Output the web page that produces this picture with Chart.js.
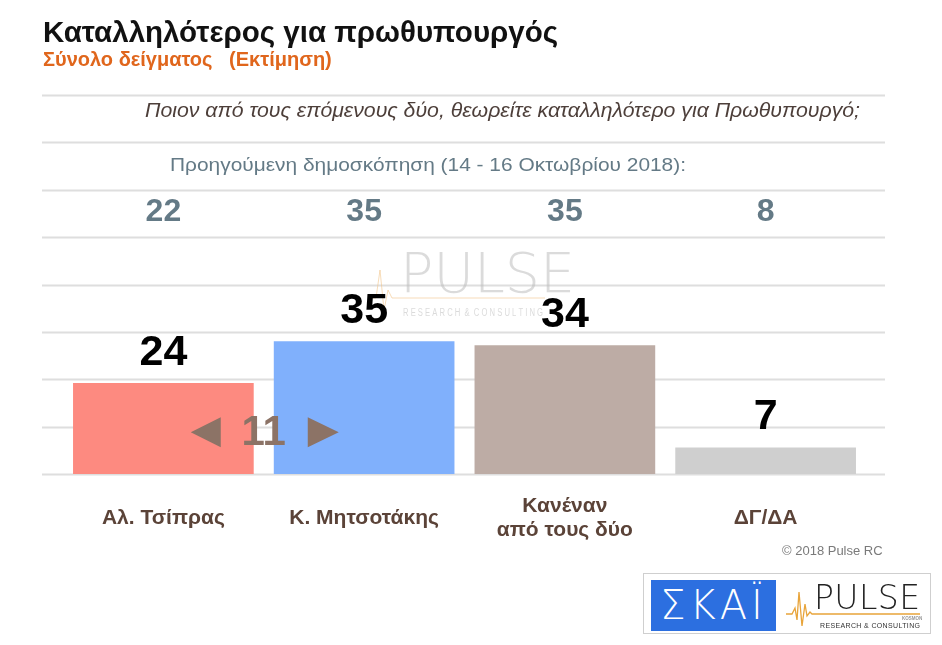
<!DOCTYPE html>
<html lang="el">
<head>
<meta charset="utf-8">
<title>Καταλληλότερος για πρωθυπουργός</title>
<script src="https://cdn.jsdelivr.net/npm/chart.js@4.4.1/dist/chart.umd.min.js"></script>
<style>
    html, body { margin: 0; padding: 0; background: #fff; }
    body {
        width: 942px; height: 645px; position: relative; overflow: hidden;
        font-family: "Liberation Sans", Arial, sans-serif;
    }
    #chart { position: absolute; left: 0; top: 0; }
    .title { position: absolute; left: 43px; top: 15px; font-size: 29.5px; font-weight: bold; color: #111; white-space: nowrap; }
    .subtitle { position: absolute; left: 43px; top: 48px; font-size: 20px; font-weight: bold; color: #e0661c; white-space: pre; }
    .copyright { position: absolute; left: 782px; top: 543px; font-size: 13px; color: #7a7a7a; }
    .logos {
        position: absolute; left: 643px; top: 573px; width: 288px; height: 61px;
        border: 1px solid #cfcfcf; box-sizing: border-box; background: #fff;
    }
    .skai {
        position: absolute; left: 7px; top: 6px; width: 125px; height: 51px; background: #2c6fe0;
        color: #fff; font-family: "DejaVu Sans", sans-serif; font-weight: 200; font-size: 40px; line-height: 51px;
        text-align: center; letter-spacing: 4px;
    }
    .pulse-logo { position: absolute; left: 140px; top: 4px; width: 146px; height: 54px; }
</style>
</head>
<body>
<canvas id="chart" width="942" height="645"></canvas>
<div class="title">Καταλληλότερος για πρωθυπουργός</div>
<div class="subtitle">Σύνολο δείγματος   (Εκτίμηση)</div>
<div class="copyright">© 2018 Pulse RC</div>
<div class="logos">
    <div class="skai">ΣΚΑΪ</div>
    <svg class="pulse-logo" viewBox="0 0 146 54">
        <polyline points="2,36 8,36 11,30 13,42 15,14 18,48 21,26 23,38 26,34 28,36 136,36"
                  fill="none" stroke="#e8a43a" stroke-width="1.3"/>
        <text x="30" y="31" font-family="DejaVu Sans" font-size="33" font-weight="200" fill="#222" letter-spacing="2" textLength="108">PULSE</text>
        <text x="118" y="42" font-family="Liberation Sans" font-size="4.5" font-weight="bold" fill="#999">KOSMON</text>
        <text x="36" y="50" font-family="Liberation Sans" font-size="7" fill="#333" textLength="100">RESEARCH &amp; CONSULTING</text>
    </svg>
</div>

<script>
// Chart data
const categories = [['Αλ. Τσίπρας'], ['Κ. Μητσοτάκης'], ['Κανέναν', 'από τους δύο'], ['ΔΓ/ΔΑ']];
const currentValues = [24, 35, 34, 7];
const previousValues = [22, 35, 35, 8];
const barColors = ['#fd8a80', '#80b0fc', '#bdaca5', '#cfcfcf'];
const yMax = 100;
const yStep = 12.5;

const questionText = 'Ποιον από τους επόμενους δύο, θεωρείτε καταλληλότερο για Πρωθυπουργό;';
const previousText = 'Προηγούμενη δημοσκόπηση (14 - 16 Οκτωβρίου 2018):';

const FONT = '"Liberation Sans", Arial, sans-serif';

// draws left-aligned text stretched to a given width
function fillStretched(ctx, text, x, y, width) {
    const natural = ctx.measureText(text).width;
    ctx.save();
    ctx.translate(x, y);
    ctx.scale(width / natural, 1);
    ctx.textAlign = 'left';
    ctx.fillText(text, 0, 0);
    ctx.restore();
}

// grid lines reach a bit past the plot area, like the original
const gridPlugin = {
    id: 'wideGrid',
    beforeDatasetsDraw(chart) {
        const ctx = chart.ctx;
        const y = chart.scales.y;
        ctx.save();
        ctx.strokeStyle = '#dedede';
        ctx.lineWidth = 2;
        y.ticks.forEach(t => {
            const py = Math.round(y.getPixelForValue(t.value)) + 0.5;
            ctx.beginPath();
            ctx.moveTo(42, py);
            ctx.lineTo(885, py);
            ctx.stroke();
        });

        // faint watermark
        ctx.globalAlpha = 0.55;
        ctx.fillStyle = '#bdbdbd';
        ctx.font = '200 56px "DejaVu Sans", sans-serif';
        ctx.textBaseline = 'alphabetic';
        ctx.textAlign = 'left';
        ctx.fillText('PULSE', 400, 292, 175);
        ctx.font = '10px ' + FONT;
        ctx.fillText('R E S E A R C H  &  C O N S U L T I N G', 403, 316, 140);
        ctx.strokeStyle = '#f0c080';
        ctx.lineWidth = 1;
        ctx.beginPath();
        ctx.moveTo(370, 298);
        ctx.lineTo(376, 298);
        ctx.lineTo(380, 270);
        ctx.lineTo(384, 310);
        ctx.lineTo(388, 290);
        ctx.lineTo(392, 298);
        ctx.lineTo(545, 298);
        ctx.stroke();
        ctx.restore();
    }
};

const labelPlugin = {
    id: 'labels',
    afterDatasetsDraw(chart) {
        const ctx = chart.ctx;
        const x = chart.scales.x;
        const y = chart.scales.y;
        ctx.save();
        ctx.textBaseline = 'middle';

        ctx.fillStyle = '#4d3f3a';
        ctx.font = 'italic 21px ' + FONT;
        fillStretched(ctx, questionText, 145, 111, 715);

        ctx.fillStyle = '#647a86';
        ctx.font = '19px ' + FONT;
        fillStretched(ctx, previousText, 170, 166, 516);

        ctx.textAlign = 'center';
        ctx.font = 'bold 32px ' + FONT;
        previousValues.forEach((v, i) => {
            ctx.fillText(String(v), x.getPixelForValue(i), 212);
        });

        // current values above bars
        ctx.fillStyle = '#000';
        ctx.font = 'bold 43px ' + FONT;
        const meta = chart.getDatasetMeta(0);
        meta.data.forEach((bar, i) => {
            ctx.fillText(String(currentValues[i]), bar.x, bar.y - 30);
        });

        // lead between the two leaders
        const lead = currentValues[1] - currentValues[0];
        const cx = (x.getPixelForValue(0) + x.getPixelForValue(1)) / 2;
        const cy = y.getPixelForValue(11);
        ctx.fillStyle = '#8c7366';
        ctx.font = 'bold 42px ' + FONT;
        ctx.fillText(String(lead), cx, cy + 1);
        ctx.beginPath();
        ctx.moveTo(cx - 73, cy);
        ctx.lineTo(cx - 43, cy - 15);
        ctx.lineTo(cx - 43, cy + 15);
        ctx.closePath();
        ctx.moveTo(cx + 75, cy);
        ctx.lineTo(cx + 44, cy - 15);
        ctx.lineTo(cx + 44, cy + 15);
        ctx.closePath();
        ctx.fill();

        // category labels
        ctx.fillStyle = '#5b4338';
        ctx.font = 'bold 21px ' + FONT;
        categories.forEach((lines, i) => {
            const px = x.getPixelForValue(i);
            const top = 518 - (lines.length - 1) * 12;
            lines.forEach((line, j) => ctx.fillText(line, px, top + j * 24));
        });
        ctx.restore();
    }
};

new Chart(document.getElementById('chart'), {
    type: 'bar',
    data: {
        labels: categories,
        datasets: [{
            data: currentValues,
            backgroundColor: barColors,
            borderWidth: 0,
            barPercentage: 0.9,
            categoryPercentage: 1.0
        }]
    },
    options: {
        responsive: false,
        animation: false,
        layout: { padding: { left: 63, right: 76, top: 95, bottom: 171 } },
        plugins: {
            legend: { display: false },
            tooltip: { enabled: false }
        },
        scales: {
            x: { display: false },
            y: {
                display: false,
                min: 0,
                max: yMax,
                ticks: { stepSize: yStep }
            }
        }
    },
    plugins: [gridPlugin, labelPlugin]
});
</script>
</body>
</html>
